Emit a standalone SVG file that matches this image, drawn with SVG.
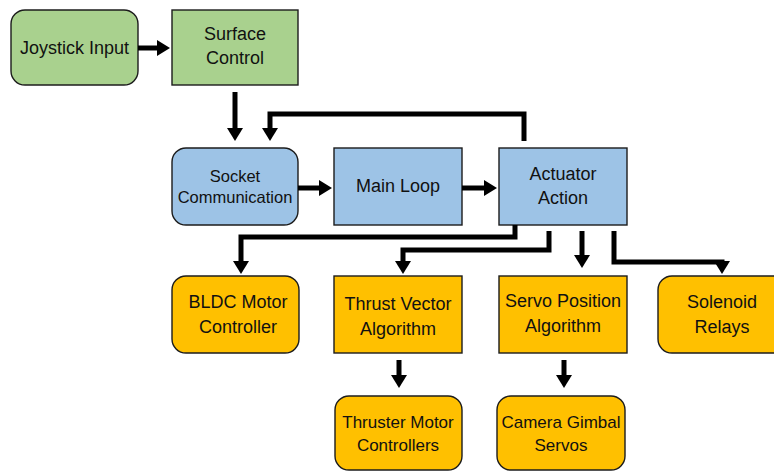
<svg xmlns="http://www.w3.org/2000/svg" width="774" height="472" viewBox="0 0 774 472">
  <style>
    .box { stroke: #1c1c1c; stroke-width: 1.4; }
    .green { fill: #A9D18E; }
    .blue { fill: #9DC3E6; }
    .orange { fill: #FFC000; }
    .lbl { font-family: "Liberation Sans", "Open Sans", sans-serif; font-size: 18px; fill: #111; text-anchor: middle; dominant-baseline: central; }
    .sm { font-size: 16.5px; }
    .md { font-size: 17px; }
    .wire { fill: none; stroke: #000; stroke-width: 5; marker-end: url(#head); }
  </style>
  <defs>
    <marker id="head" markerUnits="userSpaceOnUse" markerWidth="18" markerHeight="18" refX="2" refY="9" orient="auto">
      <path d="M0,1 L13,9 L0,17 Z" fill="#000"/>
    </marker>
  </defs>

  <g id="joystick-input">
    <rect class="box green" x="11" y="10" width="127" height="75" rx="14"/>
    <text class="lbl" x="74.5" y="48">Joystick Input</text>
  </g>
  <g id="surface-control">
    <rect class="box green" x="172" y="10" width="126" height="75"/>
    <text class="lbl" x="235" y="34">Surface</text>
    <text class="lbl" x="235" y="58">Control</text>
  </g>
  <g id="socket-communication">
    <rect class="box blue" x="172" y="148" width="126" height="77" rx="14"/>
    <text class="lbl sm" x="235" y="176">Socket</text>
    <text class="lbl sm" x="235" y="197">Communication</text>
  </g>
  <g id="main-loop">
    <rect class="box blue" x="334" y="148" width="128" height="77"/>
    <text class="lbl" x="398" y="186">Main Loop</text>
  </g>
  <g id="actuator-action">
    <rect class="box blue" x="499" y="148" width="128" height="77"/>
    <text class="lbl" x="563" y="174">Actuator</text>
    <text class="lbl" x="563" y="198">Action</text>
  </g>
  <g id="bldc-motor-controller">
    <rect class="box orange" x="172" y="276" width="127" height="77" rx="14"/>
    <text class="lbl" x="238" y="302">BLDC Motor</text>
    <text class="lbl" x="238" y="327">Controller</text>
  </g>
  <g id="thrust-vector-algorithm">
    <rect class="box orange" x="334" y="276" width="128" height="77"/>
    <text class="lbl" x="398" y="304">Thrust Vector</text>
    <text class="lbl" x="398" y="329">Algorithm</text>
  </g>
  <g id="servo-position-algorithm">
    <rect class="box orange" x="499" y="276" width="128" height="77"/>
    <text class="lbl" x="563" y="301">Servo Position</text>
    <text class="lbl" x="563" y="326">Algorithm</text>
  </g>
  <g id="solenoid-relays">
    <rect class="box orange" x="658" y="276" width="130" height="77" rx="14"/>
    <text class="lbl" x="722" y="302">Solenoid</text>
    <text class="lbl" x="722" y="327">Relays</text>
  </g>
  <g id="thruster-motor-controllers">
    <rect class="box orange" x="335" y="396" width="127" height="74" rx="14"/>
    <text class="lbl md" x="398" y="422">Thruster Motor</text>
    <text class="lbl md" x="398" y="445">Controllers</text>
  </g>
  <g id="camera-gimbal-servos">
    <rect class="box orange" x="497" y="396" width="128" height="74" rx="14"/>
    <text class="lbl md" x="561" y="422">Camera Gimbal</text>
    <text class="lbl md" x="561" y="445">Servos</text>
  </g>

  <g id="connectors">
    <path class="wire" d="M138,48 H159"/>
    <path class="wire" d="M235,92 V130"/>
    <path class="wire" d="M524,141 V114 H270 V130"/>
    <path class="wire" d="M298,188 H321"/>
    <path class="wire" d="M462,188 H486"/>
    <path class="wire" d="M515,225 V237 H241 V263"/>
    <path class="wire" d="M549,231 V250 H403 V263"/>
    <path class="wire" d="M582,231 V257"/>
    <path class="wire" d="M614,231 V262 H722 V263"/>
    <path class="wire" d="M399,360 V377"/>
    <path class="wire" d="M564,360 V377"/>
  </g>
</svg>
